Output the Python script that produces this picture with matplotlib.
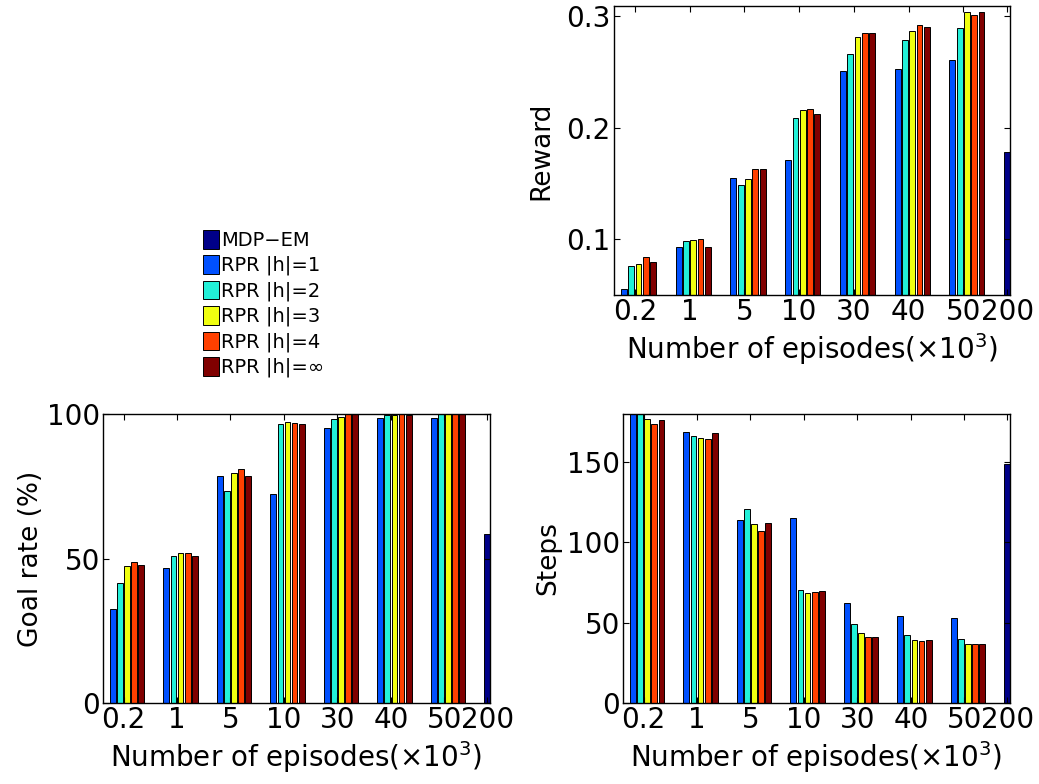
import matplotlib
matplotlib.use('Agg')
import matplotlib.pyplot as plt
from matplotlib.patches import Patch

plt.rcParams['font.family'] = ['DejaVu Sans']

# x categories (thousands of episodes)
episodes = ['0.2', '1', '5', '10', '30', '40', '50', '200']

series_names = ['MDP\u2212EM', 'RPR |h|=1', 'RPR |h|=2', 'RPR |h|=3', 'RPR |h|=4', 'RPR |h|=\u221e']
colors = ['#000088', '#0050ff', '#22f0d8', '#f0ff10', '#ff4000', '#800000']

# RPR values for groups 0.2 .. 50, one list per |h|
reward_h1 = [0.055, 0.093, 0.155, 0.171, 0.251, 0.253, 0.261]
reward_h2 = [0.076, 0.098, 0.149, 0.209, 0.266, 0.279, 0.289]
reward_h3 = [0.078, 0.099, 0.154, 0.216, 0.281, 0.287, 0.304]
reward_h4 = [0.084, 0.100, 0.163, 0.217, 0.285, 0.292, 0.301]
reward_hinf = [0.080, 0.093, 0.163, 0.212, 0.285, 0.290, 0.304]
reward_mdp = 0.178

goal_h1 = [32.6, 46.8, 78.6, 72.2, 95.3, 98.6, 98.6]
goal_h2 = [41.5, 51.0, 73.5, 96.5, 98.3, 99.7, 100.0]
goal_h3 = [47.5, 51.8, 79.6, 97.2, 99.1, 99.7, 100.0]
goal_h4 = [48.7, 51.8, 80.9, 96.8, 100.0, 99.9, 100.0]
goal_hinf = [47.9, 50.9, 78.5, 96.7, 100.0, 99.7, 100.0]
goal_mdp = 58.5

steps_h1 = [186, 168.8, 114.2, 115.0, 62.1, 54.0, 53.0]
steps_h2 = [190, 166.4, 121.0, 70.1, 49.0, 42.4, 40.1]
steps_h3 = [176.7, 165.3, 111.3, 68.5, 43.5, 39.3, 36.8]
steps_h4 = [174.0, 164.7, 107.4, 69.1, 41.0, 38.7, 37.0]
steps_hinf = [176.5, 168.2, 111.9, 69.9, 41.2, 39.3, 36.6]
steps_mdp = 148.8

slot = 0.8 / 6
bar_w = slot * 0.8
mdp_pos = 7.8


def draw_bars(ax, rpr_lists, mdp_value, ylim, yticks, ylabel, pad):
    groups = range(1, len(rpr_lists[0]) + 1)
    for k, vals in enumerate(rpr_lists):
        off = (k + 1 - 2.5) * slot
        ax.bar([g + off for g in groups], vals, width=bar_w,
               color=colors[k + 1], edgecolor='black', linewidth=0.7)
    ax.bar([mdp_pos], [mdp_value], width=bar_w, color=colors[0],
           edgecolor='black', linewidth=0.7)
    ax.set_xlim(0.61, mdp_pos + bar_w / 2)
    ax.set_ylim(*ylim)
    ax.set_xticks(list(groups) + [mdp_pos])
    ax.set_xticklabels(episodes)
    ax.set_yticks(yticks)
    ax.tick_params(direction='in', top=True, right=True, length=4,
                   labelsize=20, pad=2)
    ax.set_xlabel('Number of episodes(\u00d710$^3$)', fontsize=20, labelpad=4)
    ax.set_ylabel(ylabel, fontsize=19, labelpad=pad)
    for s in ax.spines.values():
        s.set_linewidth(1.0)


fig = plt.figure(figsize=(10.39, 7.84), dpi=100)

ax_r = fig.add_axes([0.5905, 0.6237, 0.3816, 0.3686])
draw_bars(ax_r, [reward_h1, reward_h2, reward_h3, reward_h4, reward_hinf],
          reward_mdp, (0.05, 0.309), [0.1, 0.2, 0.3], 'Reward', 9)

ax_g = fig.add_axes([0.0988, 0.1033, 0.3728, 0.3686])
draw_bars(ax_g, [goal_h1, goal_h2, goal_h3, goal_h4, goal_hinf],
          goal_mdp, (0, 100), [0, 50, 100], 'Goal rate (%)', 2)

ax_s = fig.add_axes([0.5993, 0.1033, 0.3728, 0.3686])
draw_bars(ax_s, [steps_h1, steps_h2, steps_h3, steps_h4, steps_hinf],
          steps_mdp, (0, 180), [0, 50, 100, 150], 'Steps', 4)

handles = [Patch(facecolor=c, edgecolor='black', linewidth=0.7) for c in colors]
fig.legend(handles, series_names, loc='upper left',
           bbox_to_anchor=(203 / 1039, 1 - 230 / 784), frameon=False,
           fontsize=14, handlelength=0.8, handleheight=1.1,
           handletextpad=0.12, labelspacing=0.26, borderpad=0, borderaxespad=0)

plt.savefig('out.png', dpi=100)
